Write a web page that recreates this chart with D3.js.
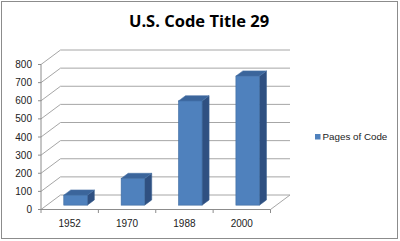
<!DOCTYPE html>
<html><head><meta charset="utf-8">
<script src="https://cdn.jsdelivr.net/npm/d3@7"></script>
<style>html,body{margin:0;padding:0;background:#fff;}svg{display:block;}</style>
</head><body>
<svg id="c" width="400" height="241"></svg>
<script>
const years = ["1952", "1970", "1988", "2000"];
const pages = [55, 147, 575, 712];
const yTicks = [0, 100, 200, 300, 400, 500, 600, 700, 800];
const seriesName = "Pages of Code";
const title = "U.S. Code Title 29";

const svg = d3.select("#c");
const W = 400, H = 241;
svg.append("rect").attr("x", 1.5).attr("y", 1.5).attr("width", 396).attr("height", 237)
  .attr("fill", "#fff").attr("stroke", "#8c8c8c").attr("stroke-width", 1);

const left = 41, right = 270.5;
const y = d3.scaleLinear().domain([0, 800]).range([209.5, 64.5]);
const x = d3.scaleBand().domain(years).range([left, right]);
const DX = 19.5, DY = -14.5;

// back wall gridlines + left wall diagonals
const g = svg.append("g");
yTicks.forEach(v => {
  const yy = y(v);
  g.append("line").attr("x1", left).attr("y1", yy).attr("x2", left + DX).attr("y2", yy + DY)
    .attr("stroke", "#a6a6a6").attr("stroke-width", 1);
  g.append("line").attr("x1", left + DX).attr("y1", yy + DY).attr("x2", right + DX).attr("y2", yy + DY)
    .attr("stroke", "#a6a6a6").attr("stroke-width", 1);
});
// floor
g.append("line").attr("x1", left).attr("y1", y(0)).attr("x2", right).attr("y2", y(0)).attr("stroke", "#a6a6a6");
g.append("line").attr("x1", right).attr("y1", y(0)).attr("x2", right + DX).attr("y2", y(0) + DY).attr("stroke", "#a6a6a6");

// left axis
const ax = svg.append("g");
ax.append("line").attr("x1", left).attr("y1", y(0)).attr("x2", left).attr("y2", y(800)).attr("stroke", "#8c8c8c");
yTicks.forEach(v => {
  ax.append("line").attr("x1", left - 3).attr("x2", left).attr("y1", y(v)).attr("y2", y(v)).attr("stroke", "#8c8c8c");
  ax.append("text").attr("x", 32).attr("y", y(v) + 3.5).attr("text-anchor", "end")
    .attr("font-family", "Liberation Sans, Arial, sans-serif").attr("font-size", 10).attr("fill", "#222").text(v);
});
// bottom axis
ax.append("line").attr("x1", left).attr("y1", y(0)).attr("x2", right).attr("y2", y(0)).attr("stroke", "#8c8c8c");
const xt = years.map(d => x(d)).concat([right]);
xt.forEach(t => ax.append("line").attr("x1", t).attr("x2", t).attr("y1", y(0)).attr("y2", y(0) + 3.5).attr("stroke", "#8c8c8c"));
years.forEach(d => ax.append("text").attr("x", x(d) + x.bandwidth() / 2).attr("y", 227)
  .attr("text-anchor", "middle").attr("font-family", "Liberation Sans, Arial, sans-serif").attr("font-size", 10).attr("fill", "#222").text(d));

// bars
const bw = x.bandwidth() * 0.41;
const f0 = 0.3, f1 = 0.66;
const bars = svg.append("g");
years.forEach((d, i) => {
  const cx = x(d) + x.bandwidth() / 2;
  const x0 = cx - bw / 2 + f0 * DX, x1 = x0 + bw;
  const yb = y(0) + f0 * DY, yt = y(pages[i]) + f0 * DY;
  const ddx = (f1 - f0) * DX, ddy = (f1 - f0) * DY;
  // side
  bars.append("path").attr("d", `M${x1},${yt}L${x1 + ddx},${yt + ddy}L${x1 + ddx},${yb + ddy}L${x1},${yb}Z`)
    .attr("fill", "#2f5081").attr("stroke", "#3a5f8f").attr("stroke-width", 0.6);
  // top
  bars.append("path").attr("d", `M${x0},${yt}L${x0 + ddx},${yt + ddy}L${x1 + ddx},${yt + ddy}L${x1},${yt}Z`)
    .attr("fill", "#3b659b").attr("stroke", "#4a74a8").attr("stroke-width", 0.6);
  // front
  bars.append("rect").attr("x", x0).attr("y", yt).attr("width", bw).attr("height", yb - yt)
    .attr("fill", "#4f81bd").attr("stroke", "#3d6aa0").attr("stroke-width", 0.6);
});

// title
svg.append("text").attr("x", 199).attr("y", 27).attr("text-anchor", "middle")
  .attr("font-family", "Open Sans, Liberation Sans, sans-serif").attr("font-weight", "bold").attr("font-size", 16.5)
  .attr("fill", "#000").text(title);

// legend
svg.append("rect").attr("x", 315).attr("y", 134).attr("width", 5.5).attr("height", 5.5).attr("fill", "#4f81bd");
svg.append("text").attr("x", 322.5).attr("y", 140).attr("font-family", "Liberation Sans, Arial, sans-serif")
  .attr("font-size", 9.8).attr("fill", "#222").text(seriesName);
</script>
</body></html>
